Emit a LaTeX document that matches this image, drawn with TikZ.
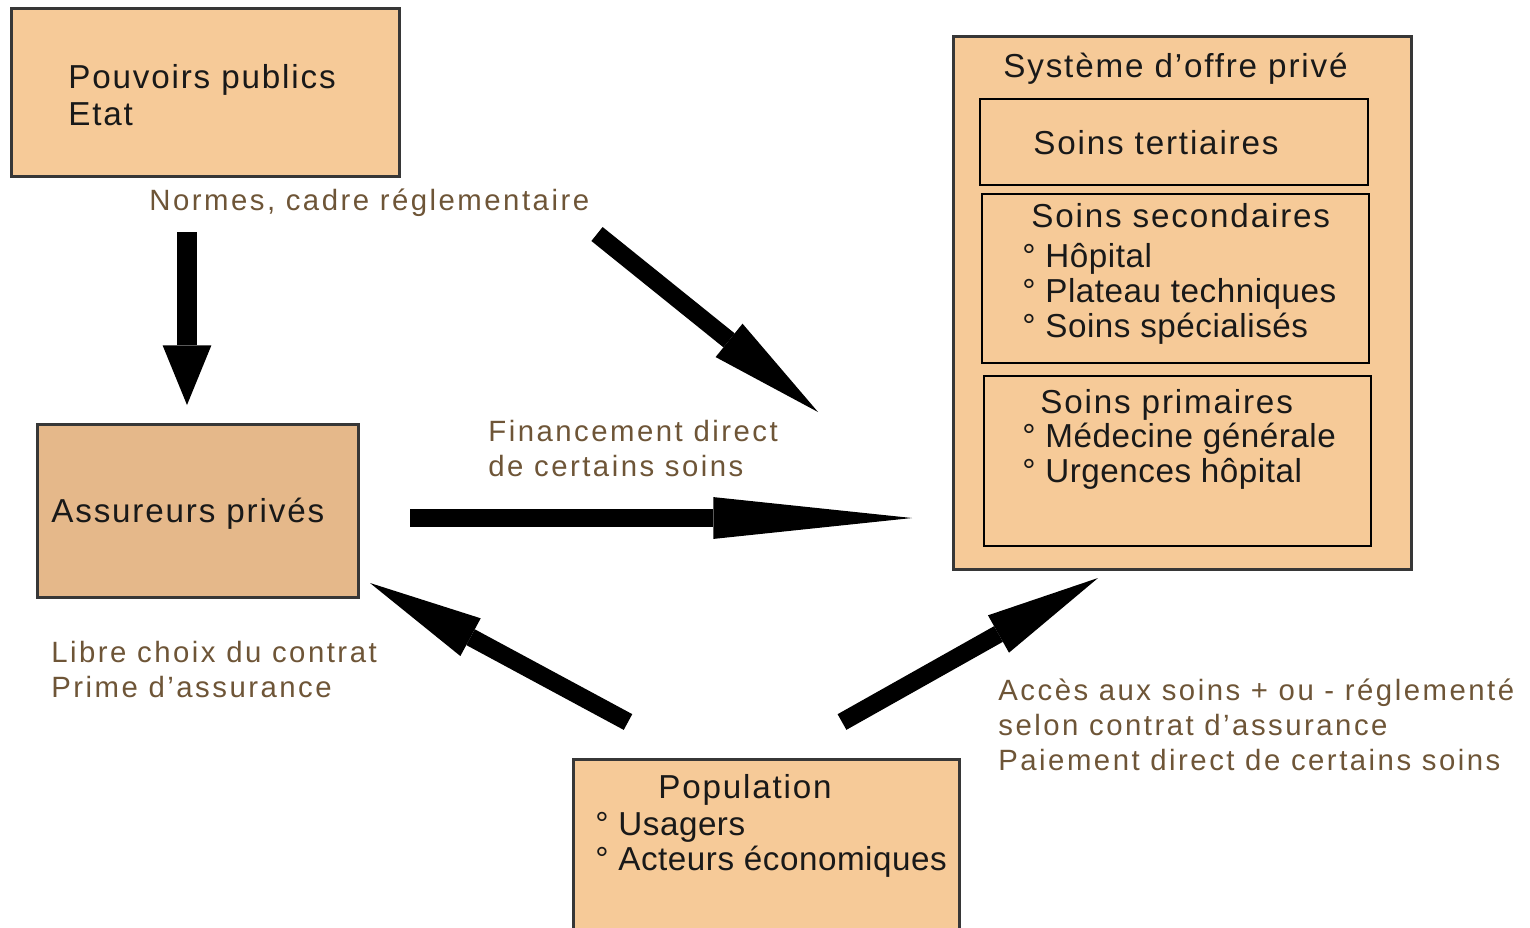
\documentclass[tikz,border=0pt]{standalone}
\usepackage{fontspec}
\setmainfont{Liberation Sans}
\newfontfamily\boxfont[LetterSpace=5.5]{Liberation Sans}
\newfontfamily\itemfont[LetterSpace=1.6]{Liberation Sans}
\newfontfamily\notefont[LetterSpace=8.5]{Liberation Sans}
\usetikzlibrary{arrows.meta}
\definecolor{peach}{RGB}{246,202,152}
\definecolor{tanfill}{RGB}{229,184,138}
\definecolor{notebrown}{RGB}{110,85,55}
\definecolor{edgegray}{RGB}{55,55,55}

\begin{document}
\begin{tikzpicture}[x=0.02cm,y=-0.02cm,
  box/.style={draw=edgegray, line width=1.5pt, fill=peach, inner sep=0pt, anchor=north west},
  inbox/.style={draw=black, line width=1.2pt, fill=peach, inner sep=0pt, anchor=north west},
  size/.style 2 args={minimum width=#1*0.02cm, minimum height=#2*0.02cm},
  boxtext/.style={anchor=base west, inner sep=0pt, text=black!90,
    font=\boxfont\fontsize{18.9}{20}\selectfont},
  itemtext/.style={boxtext, font=\itemfont\fontsize{18.9}{20}\selectfont},
  note/.style={anchor=base west, inner sep=0pt, text=notebrown,
    font=\notefont\fontsize{16.7}{20}\selectfont},
  fat/.style={line width=10.2pt, -{Triangle[length=65pt,width=24.4pt,line width=0pt]}},
  fatdown/.style={line width=11.9pt, -{Triangle[length=34pt,width=27.8pt,line width=0pt]}},
  fatlong/.style={line width=10.2pt, -{Triangle[length=113pt,width=23.8pt,line width=0pt]}},
]
\clip (0,0) rectangle (1530,927);

% actors
\node[box, size={388}{168}] (pouvoirs) at (10,7) {};
\node[box, size={321}{173}, fill=tanfill] (assureurs) at (36,423) {};
\node[box, size={458}{533}] (systeme) at (952,35) {};
\node[inbox, size={388}{86}] (tertiaires) at (979,98) {};
\node[inbox, size={387}{169}] (secondaires) at (981,193) {};
\node[inbox, size={387}{170}] (primaires) at (983,375) {};
\node[box, size={386}{200}] (population) at (572,758) {};

% box titles
\node[boxtext] (tPouv) at (68,88) {Pouvoirs publics};
\node[boxtext] (tEtat) at (68,125) {Etat};
\node[boxtext] (tAss) at (51,522) {Assureurs privés};
\node[boxtext] (tSys) at (1003,77) {Système d’offre privé};
\node[boxtext] (tTert) at (1033,154) {Soins tertiaires};
\node[boxtext] (tSec) at (1031,227) {Soins secondaires};
\node[boxtext] (tPrim) at (1040,413) {Soins primaires};
\node[boxtext] (tPop) at (658,798) {Population};

% bulleted items
\node[itemtext] (tSecA) at (1022,267) {° Hôpital};
\node[itemtext] (tSecB) at (1022,302) {° Plateau techniques};
\node[itemtext] (tSecC) at (1022,337) {° Soins spécialisés};
\node[itemtext] (tPrimA) at (1022,447) {° Médecine générale};
\node[itemtext] (tPrimB) at (1022,482) {° Urgences hôpital};
\node[itemtext] (tPopA) at (595,835) {° Usagers};
\node[itemtext] (tPopB) at (595,870) {° Acteurs économiques};

% flow labels
\node[note] (lNormes) at (149,210) {Normes, cadre réglementaire};
\node[note] (lFinA) at (488,441) {Financement direct};
\node[note] (lFinB) at (488,476) {de certains soins};
\node[note] (lLibreA) at (51,662) {Libre choix du contrat};
\node[note] (lLibreB) at (51,697) {Prime d’assurance};
\node[note] (lAccA) at (998,700) {Accès aux soins + ou - réglementé};
\node[note] (lAccB) at (998,735) {selon contrat d’assurance};
\node[note] (lAccC) at (998,770) {Paiement direct de certains soins};

% arrow ends
\coordinate (normDownTail) at (187,232);
\coordinate (normDownTip) at (187,405);
\coordinate (normDiagTail) at (597,234);
\coordinate (normDiagTip) at (818,412);
\coordinate (finTail) at (410,518);
\coordinate (finTip) at (912,518);
\coordinate (primeTail) at (628,722);
\coordinate (primeTip) at (370,583);
\coordinate (accesTail) at (842,722);
\coordinate (accesTip) at (1098,578);

% flows
\draw[fatdown] (normDownTail) -- (normDownTip);
\draw[fat] (normDiagTail) -- (normDiagTip);
\draw[fatlong] (finTail) -- (finTip);
\draw[fat] (primeTail) -- (primeTip);
\draw[fat] (accesTail) -- (accesTip);
\end{tikzpicture}
\end{document}
